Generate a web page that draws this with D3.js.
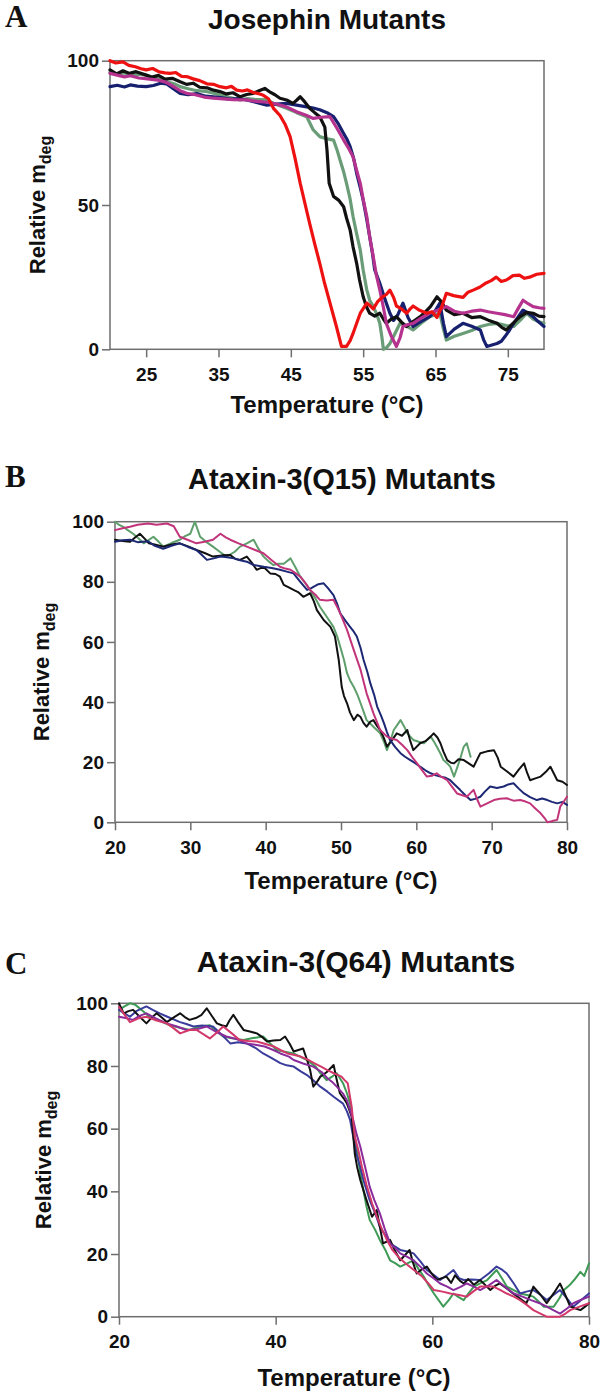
<!DOCTYPE html>
<html>
<head>
<meta charset="utf-8">
<script src="https://cdn.jsdelivr.net/npm/d3@7"></script>
<style>
html,body{margin:0;padding:0;background:#fff;}
svg{display:block;}
text{font-family:"Liberation Sans",Arial,sans-serif;font-weight:bold;fill:#111;}
.letter{font-family:"Liberation Serif","Times New Roman",serif;font-weight:bold;}
</style>
</head>
<body>
<svg id="chart" width="602" height="1395"></svg>
<script>
// ---------------- DATA ----------------
const titles = ["Josephin Mutants", "Ataxin-3(Q15) Mutants", "Ataxin-3(Q64) Mutants"];
const panelLetters = ["A", "B", "C"];
const xTicksA = [25, 35, 45, 55, 65, 75];
const yTicksA = [0, 50, 100];
const xTicksB = [20, 30, 40, 50, 60, 70, 80];
const yTicksB = [0, 20, 40, 60, 80, 100];
const xTicksC = [20, 40, 60, 80];
const yTicksC = [0, 20, 40, 60, 80, 100];

// Panel A (Josephin mutants)
const redA = [[20,100],[20.8,99.2],[21.8,99.6],[22.6,98.4],[23.5,97.9],[24.3,97.2],[25,96.8],[25.9,97.3],[26.8,96.1],[27.6,95.8],[28.3,95.6],[29.1,95.9],[29.9,94.6],[30.6,94.5],[31.5,93.7],[32.4,93.1],[33.4,92],[34.3,91.8],[35.2,91],[36.1,90.6],[36.8,91.1],[37.5,89.8],[38.3,89.5],[39,89.9],[39.8,89],[40.5,88.6],[41.2,88],[41.9,86.8],[42.6,83.5],[43.5,81],[44.2,78],[44.9,73.7],[45.6,66],[46.3,57.5],[47,50],[47.6,43.6],[48.3,36.5],[49,29.8],[49.6,23.5],[50.2,18],[50.8,12.5],[51.3,7.9],[52,1],[52.7,1],[53.2,3],[53.6,5.5],[54.1,9],[54.6,12.5],[55.5,16],[56,15],[56.4,14],[57,16.5],[57.6,18],[58.2,19],[58.7,20.5],[59.2,18],[59.6,15],[60.3,14],[61,12.5],[61.5,14],[61.9,15],[62.8,13.5],[63.8,12.5],[64.5,13],[65.2,11],[65.9,15],[66.5,19.4],[67.5,18.6],[68.8,18],[69.5,19.8],[70.2,20.5],[71.1,21.5],[72,23],[72.7,23.8],[73.4,25],[74.1,23.5],[74.8,24],[75.7,25.5],[76.6,25.7],[77.3,24.6],[78,25],[79,26],[80,26.3]];
const blackA = [[20,96.8],[20.9,95.4],[21.8,96.5],[22.7,95.6],[23.6,96.2],[25,95],[25.8,94.3],[26.7,94.9],[27.6,93.6],[28.6,93.9],[29.7,92.7],[30.6,91.8],[31.5,92.2],[32.4,90.8],[33.4,90.6],[34.3,89.8],[35.2,89.3],[36.1,88.5],[37,88.9],[38,87.5],[38.9,88.3],[39.8,88.7],[40.6,89.6],[41.4,90.4],[42.2,89],[42.8,88.2],[43.5,87],[44.4,86.4],[45.3,85.2],[45.8,86.3],[46.3,87.5],[46.9,85.8],[47.6,83.5],[48.3,82],[49,80.6],[49.7,77],[50,69],[50.3,57.5],[50.9,53],[51.6,51.7],[52.3,49.4],[52.7,45.5],[53.2,41.3],[53.6,35.5],[54.1,29.8],[54.5,24],[55,18.2],[55.5,14.5],[55.9,12.5],[56.6,11.5],[57.3,12.5],[57.8,10.5],[58.2,9],[58.9,10.5],[59.6,11.3],[60.3,9.4],[61,7.9],[61.9,9.6],[62.9,11.3],[63.6,13],[64.3,14.8],[65.2,18.2],[65.8,16.5],[66.5,13.6],[67.6,12],[68.8,12.5],[70,11],[71.2,11.3],[72.3,10.1],[73.5,9],[74.2,7.5],[74.8,6.7],[75.7,9],[76.7,11.3],[77.6,12.8],[78.5,12.5],[79.3,11.5],[80,11.3]];
const navyA = [[20,91],[21,91.5],[22,90.9],[22.8,91.6],[23.8,91.2],[25,91],[26,91.4],[27,92.2],[27.8,92],[28.8,90.2],[29.7,88.7],[30.8,88.2],[32,88.6],[33.2,87.7],[34.3,87.5],[35.5,87.1],[36.6,86.7],[37.8,86.9],[38.9,86.4],[40,85.7],[40.9,85.1],[41.7,84.6],[43,85],[44.4,85.2],[45.8,84.6],[47.2,84],[48.1,83.6],[49,83],[50,82],[50.9,80.6],[51.6,78],[52.3,74.8],[52.8,72.6],[53.2,70.2],[53.7,66],[54.1,61],[54.6,56],[55,51.7],[55.5,45],[55.9,39],[56.3,33],[56.6,27.5],[57.3,22.9],[57.8,19],[58.2,16],[58.7,12.5],[59.2,10],[59.8,12],[60.5,16],[61.2,11],[61.9,7.9],[62.9,9.5],[64.2,11.3],[65,13.5],[65.6,16],[66.1,9],[66.5,4.4],[67.6,7],[68.8,9],[70,8],[71.2,6.7],[71.7,3],[72.1,1],[72.8,1.5],[73.5,2],[74.1,2.8],[74.6,4.4],[75.2,6.5],[75.8,9],[76.5,11.5],[77.1,13.6],[77.8,12.5],[78.5,11.3],[79.2,9.6],[80,7.9]];
const greenA = [[20,96],[21,95.4],[22,95.8],[23,94.9],[24,95.3],[25,95],[26,94.2],[27,93.5],[28,92.6],[29,91.9],[29.7,91],[30.8,90.3],[32,89.6],[33.2,89.4],[34.3,88.7],[35.5,88],[36.6,87.2],[38,86.4],[39,86.9],[40,86.6],[41.7,86.4],[43,84.8],[44.4,83.5],[45.8,82],[47.2,80.6],[48.1,76],[49,73.7],[49.9,73],[50.9,72.5],[51.4,69],[51.8,65.6],[52.3,61.5],[52.7,57.5],[53.2,52],[53.6,46],[54.1,40],[54.6,34.4],[55,27.5],[55.5,20.6],[55.9,17],[56.4,14.8],[56.9,12],[57.3,9],[57.6,4],[57.8,0],[58.2,0.5],[58.7,2],[59.4,5.5],[60.1,9],[61,8],[61.9,6.7],[63,9],[64.2,11.3],[65.6,12.5],[66.1,7],[66.5,3.2],[67.6,4.5],[68.8,5.5],[70,6.5],[71.2,7.9],[72.3,8.6],[73.5,9],[74.8,8.2],[75.8,7.9],[76.7,10],[77.6,12.5],[78.5,10.5],[79.3,9.5],[80,9]];
const magentaA = [[20,95.6],[21,95],[22,94.4],[22.8,94.8],[24,94],[25.5,93.6],[26.6,93.3],[27.8,92.5],[28.8,91],[29.7,89.6],[30.6,88.7],[31.8,88.2],[33,87.4],[34.3,87],[35.6,86.8],[37,86.5],[38.9,86.4],[40.3,85.9],[41.7,85.6],[43,85],[44.4,84],[45.8,82.3],[47.2,81],[48.1,80],[49.2,80.4],[50.4,80.6],[51.4,76.5],[52.3,72.5],[53,69.6],[53.6,66.7],[54.1,62],[54.6,57.5],[55,52],[55.5,46],[55.9,39],[56.4,32],[56.8,26],[57.3,20.6],[57.8,14.5],[58.2,9],[58.9,4.5],[59.6,1],[60.1,4],[60.5,7.9],[61.2,8.6],[61.9,9],[63,10.8],[64.2,12.5],[65.3,13.5],[66.5,14.8],[67.6,13.2],[68.8,12.5],[70,13.2],[71.2,13.6],[72.3,13],[73.5,12.5],[74.6,12],[75.8,11.3],[76.4,14],[77.1,17],[77.8,15.8],[78.5,14.8],[79.3,14.4],[80,14.2]];

// Panel B (Ataxin-3 Q15 mutants)
const blackB = [[20,94],[21,93.6],[22,93.3],[22.7,94.8],[23.3,96],[24,94.2],[24.5,92.8],[25.4,92.3],[26.4,91.7],[27.5,92.4],[28.6,92.8],[29.7,91.8],[30.8,90.6],[31.9,89.6],[33,88.4],[34.2,88.8],[35.3,88.9],[36,87.6],[36.6,87.3],[37.5,88.4],[38.2,86.2],[38.8,84],[39.7,85],[40.6,82.8],[41.3,82.6],[41.9,81.7],[42.4,79],[43,78.2],[43.7,77.3],[44.3,76.6],[45,75],[45.9,76.2],[46.4,73.5],[46.8,70.6],[47.7,67.3],[48.6,65],[49.2,61.8],[49.7,54],[50.1,45],[50.4,42],[50.8,39.6],[51.2,36.5],[51.7,34],[52.2,35.8],[52.6,35],[53,33],[53.4,31.8],[53.9,33.5],[54.3,34],[54.8,32],[55.2,30.7],[55.7,28],[56.1,25.2],[56.8,27.4],[57.4,29.6],[58.1,28.8],[58.8,30.7],[59.2,27],[59.6,24],[60.5,26.3],[61.2,27],[61.9,28.5],[62.3,29.6],[62.8,28.2],[63.2,26.3],[63.6,23.5],[64.1,20.7],[64.6,19.8],[65,19.6],[65.6,21],[66.3,20.7],[67,19.5],[67.6,18.5],[68.1,21],[68.5,23],[69.4,23.6],[70.3,24],[70.8,21.5],[71.2,18.5],[72,17],[72.9,15.2],[73.6,17.5],[74.3,19.6],[74.7,16.5],[75.1,14],[75.8,14.6],[76.5,15.2],[77.2,16.8],[77.8,18.5],[78.3,16],[78.7,14],[79.4,13.5],[80,12.4]];
const navyB = [[20,93.3],[21,93.8],[22,94],[23,93.2],[24.4,93.5],[25.2,92.1],[26.4,91],[27.5,92],[28.6,92.8],[29.7,91.6],[30.8,90.6],[31.5,89],[32.2,87.3],[33.1,87.8],[34,88.4],[34.9,88.2],[35.8,87.8],[36.6,87.2],[37.5,86.7],[38.4,85.6],[39.7,85],[40.8,84.6],[41.9,84],[42.8,83.4],[43.7,82.8],[44.6,80],[45.5,77.3],[46,77.8],[46.4,78.4],[47,79.2],[47.7,79.5],[48.3,77.8],[49,75.6],[49.5,72.6],[49.9,69.5],[50.6,67],[51.2,65],[51.7,63.4],[52.1,61.8],[52.6,58],[53,54],[53.5,50],[53.9,46.2],[54.4,42.4],[54.8,38.5],[55.3,35.6],[55.7,33],[56.1,30],[56.5,27.4],[57.2,25],[57.9,23],[58.5,21.8],[59.2,20.7],[59.9,19.6],[60.5,18.5],[61.2,17.3],[61.9,16.3],[62.6,15.6],[63.2,15.2],[63.9,14.8],[64.5,14],[65.1,12.5],[65.8,10.8],[66.5,9],[67.2,7.4],[67.8,7.8],[68.5,8.5],[69.1,10.2],[69.8,11.9],[70.7,11.4],[71.6,11.9],[72.2,12.6],[72.9,13],[73.6,11.2],[74.3,9.6],[75.1,8.4],[76,7.4],[76.7,7.9],[77.4,7.4],[78,6.8],[78.7,6.3],[79.4,6.8],[80,5.8]];
const greenB = [[20,100],[20.5,99],[21.1,98.3],[21.7,97.2],[22.4,96],[23.1,94.5],[23.8,92.8],[24.4,93.8],[25.1,95],[25.8,93.3],[26.4,91.7],[27.5,92.9],[28.6,94],[29.3,95.2],[30,96],[30.6,100],[31.3,95],[32.1,93.3],[33,91.7],[33.9,90],[34.8,88.4],[35.9,90],[36.6,91.7],[37.5,92.8],[38.4,94],[39,91.2],[39.7,88.4],[40.4,86.8],[41,85.6],[41.7,86],[42.4,86],[43.3,87.8],[44,84.6],[44.6,81.7],[45.3,79.5],[45.9,77.3],[46.6,74.5],[47.2,71.7],[48.1,68.4],[49,65],[49.5,61.8],[49.9,58.4],[50.4,54],[50.8,49.6],[51.2,47.2],[51.7,45],[52.2,42.3],[52.6,39.6],[53,36.8],[53.4,34],[54.3,31.8],[55.2,29.6],[55.7,26.8],[56.1,24],[56.6,27.4],[57,30.7],[57.5,32.5],[57.9,34],[58.4,31.8],[58.8,29.6],[59.6,27.4],[60.3,26.8],[61,26.3],[61.9,28.5],[62.3,27],[62.7,25.2],[63.2,22.9],[63.6,20.7],[64.1,19.6],[64.5,18.5],[65,15.2],[65.4,18],[65.8,21],[66.3,25.2],[66.7,26.3],[67.2,21.8]];
const magentaB = [[20,97.2],[21,97.8],[22,98.3],[23,99],[24.4,99.4],[25.5,99],[26.9,99.4],[27.8,98.5],[28.6,95],[29.7,93.9],[30.8,92.8],[31.9,93.3],[33,94],[34,96],[34.7,94.8],[35.3,94],[36.4,92.8],[37.5,91.7],[38.6,90.6],[39.7,89.5],[40.8,87.2],[41.9,85],[42.6,84.4],[43.3,84],[44,82.8],[44.6,81.7],[45.3,79.5],[45.9,77.3],[46.6,75.7],[47.2,74],[48.1,73.8],[49,74],[49.5,71.6],[49.9,69.5],[50.8,64],[51.7,57.3],[52.6,50.7],[53.4,42.9],[54.3,36.3],[55.2,30.7],[56.1,28.5],[56.8,27.8],[57.4,27.4],[58.1,25.8],[58.8,24],[59.5,21.5],[60.1,19.6],[60.8,17.2],[61.4,15.2],[62.1,15.5],[62.7,16.3],[63.4,15],[64.1,14],[64.8,11.6],[65.4,9.6],[66.1,9],[66.7,8.5],[67.2,9.8],[67.6,10.8],[68.1,7.5],[68.5,5.2],[69.4,6.3],[70.3,7.4],[71.1,7.8],[72,8],[72.9,7.2],[73.8,7.4],[74.5,6.9],[75.1,6.3],[75.8,4.6],[76.5,3],[77,1.5],[77.4,0],[78,0.4],[78.7,0.8],[79.1,5.2],[79.6,7],[80,8.5]];

// Panel C (Ataxin-3 Q64 mutants)
const blackC = [[20,100],[20.6,96.8],[21.2,97.5],[21.8,97.9],[22.6,95.8],[23.5,93.6],[24.2,95.5],[24.8,96.8],[25.5,95.4],[26.1,94],[27,95.5],[27.8,96.8],[28.4,95.6],[29,94.7],[29.8,95.3],[30.5,96.2],[31.2,98.4],[31.9,95.8],[32.5,93.6],[33.1,93],[33.7,92.6],[34.1,94.5],[34.6,96.3],[35.2,94],[35.9,91.5],[36.7,91],[37.6,90.4],[38.3,89.2],[38.9,87.8],[39.7,88.1],[40.6,88.3],[41.2,89.4],[41.8,87],[42.3,84.6],[42.9,85.1],[43.5,85.6],[44,82],[44.4,78.7],[44.8,73.4],[45.3,75],[45.7,76.6],[46.5,78],[47.4,80.3],[47.8,75.5],[48.2,71.3],[48.7,69.6],[49.1,68],[49.4,66],[49.7,63.8],[50.1,52],[50.4,47.8],[50.8,43.6],[51.2,40.4],[51.6,37.2],[52.3,31.9],[52.9,34],[53.3,28.7],[53.7,23.4],[54.2,24],[54.6,24.5],[55.2,21.2],[55.9,18],[56.5,19.6],[57.1,21.3],[57.5,17.5],[58,13.8],[58.6,15],[59.3,16],[59.9,13.8],[60.6,11.7],[61.2,12.3],[61.8,12.8],[62.4,10.8],[62.9,13.2],[63.5,11.5],[64,10.6],[64.6,12],[65.3,10.2],[66.1,11.7],[66.8,10],[67.4,8.5],[68,9.8],[68.6,10.6],[69.5,9],[70.3,7.4],[71.2,5.8],[72,4.3],[72.5,7],[72.9,9.6],[73.8,7],[74.6,4.3],[75.5,7.5],[76.3,10.6],[77,6.8],[77.6,3.2],[78.3,2.6],[78.9,2.1],[79.5,3.2],[80,4.3]];
const blueC = [[20,97.9],[20.7,96.8],[21.4,95.7],[22.2,97.5],[23.5,99],[24.3,97.9],[25.2,96.8],[26.1,95.8],[27.8,94],[28.6,93.4],[29.5,92.6],[30.6,92.9],[32,92.6],[33.1,90],[34.2,87.2],[35.2,87.6],[36.3,87.2],[37.4,85.8],[38.4,84],[39.5,82.5],[40.6,80.9],[41.4,80.2],[42.3,79.8],[43.2,78.3],[44,77.1],[44.9,75.2],[45.7,73.4],[46.6,71.8],[47.4,70.2],[48.6,68],[49.1,65.5],[49.5,62.8],[49.9,57.4],[50.3,52],[50.8,47.8],[51.2,43.6],[51.6,40.4],[52,37.2],[52.7,33],[53.3,28.7],[54,26],[54.6,23.4],[55.3,22.3],[55.9,21.3],[56.8,20.8],[57.6,20.2],[58.5,17.6],[59.3,14.9],[60.2,13.3],[61,11.7],[61.9,13.3],[62.7,14.9],[63.4,12.3],[64,11.7],[65,11.9],[66.1,11.7],[67.2,13.8],[68.2,16],[68.9,15],[69.5,13.8],[70.4,10.6],[71.2,7.4],[72,8],[72.9,8.5],[73.8,7],[74.6,5.3],[75.5,7],[76.3,8.5],[77.2,5.8],[78,3.2],[79,5.3],[80,7.4]];
const greenC = [[20,97.9],[20.7,99],[21.4,100],[22.1,99.5],[23,97.6],[23.9,95.7],[25.2,94.4],[26.5,93],[27.8,92.2],[29,91.5],[30.3,92.6],[31.6,93],[32.4,91.2],[33.3,89.4],[34.6,88.8],[35.9,88.3],[37.1,88.9],[38.4,89.4],[39.3,87.2],[40.1,85.1],[41,84.6],[42.3,84],[43.1,83],[44,81.9],[45.1,79.8],[45.7,77.7],[46.5,75.5],[47.2,76.6],[47.8,77.7],[48.6,74.5],[49.1,71.3],[49.5,68],[49.9,61],[50.3,54.3],[50.8,45.7],[51.6,35.1],[52,30.9],[52.7,27.7],[53.3,24.5],[54,21.3],[54.6,18],[55.3,17],[55.9,16],[56.8,17],[57.6,18],[58.2,15.4],[58.9,12.8],[59.5,10.1],[60.2,7.4],[60.8,5.3],[61.4,3.2],[62.1,5.3],[62.7,7.4],[63.3,6.3],[64,5.3],[64.6,7.4],[65.3,9.6],[66.1,10.6],[67,11.7],[67.6,13.3],[68.2,14.9],[68.9,12.2],[69.5,9.6],[70.4,8.5],[71.2,7.4],[72.1,6.9],[72.9,6.4],[73.6,4.8],[74.2,3.2],[74.9,3.2],[75.5,3.2],[76.2,5.8],[76.8,8.5],[77.5,10],[78.1,11.7],[78.9,14.3],[79.4,13],[80,17]];
const purpleC = [[20,95.7],[21,95.2],[21.8,94.7],[22.6,96],[23.5,96.8],[24.7,95.2],[26.1,93.6],[27.4,92.6],[28.6,91.5],[30,91.8],[31.2,92.6],[32.3,91],[33.7,89.4],[35,88.6],[36.3,87.2],[37.4,86.8],[38.6,86.2],[39.7,85.1],[40.6,84],[41.7,83],[42.3,81.9],[43.5,80.8],[44.8,79.8],[45.9,78],[46.6,76.1],[47.3,74.7],[47.8,73.4],[48.6,71.2],[49.1,69],[49.5,65.9],[49.9,62.8],[50.3,58.5],[50.8,54.3],[51.4,48],[52,41.5],[52.6,37.2],[53.3,33],[53.9,28.2],[54.6,23.4],[55.3,21.8],[55.9,20.2],[56.8,19.1],[57.6,18],[58.5,15.9],[59.3,13.8],[60.2,12.2],[61,10.6],[61.9,9.6],[62.7,8.5],[63.6,9.5],[64.4,10.6],[65.3,9.6],[66.1,8.5],[67.2,10],[68.2,11.7],[69.3,9.5],[70.4,7.4],[71.5,6.4],[72.6,5.3],[73.7,4.3],[74.6,3.2],[75.5,2],[76.3,1],[77.2,2.6],[78,4.3],[79,5.4],[80,6.4]];
const crimsonC = [[20,98.9],[20.7,96.4],[21.4,94],[22.5,95.2],[23.5,95.7],[24.8,94.5],[26.1,93.6],[27,92],[27.8,90.4],[29,91.5],[29.9,91.5],[30.8,90.1],[31.6,88.8],[32.5,90.7],[33.3,92.6],[34.4,90.4],[35.4,88.3],[36.5,88],[37.6,87.8],[38.7,87],[39.8,86.2],[40.6,85.1],[41.5,84],[42.4,83.5],[43.2,83],[44.1,82],[44.9,80.9],[45.8,79.8],[46.6,78.7],[47.5,77.6],[48.4,76.6],[48.8,75.5],[49.2,74.5],[49.7,67],[50.1,57.4],[50.6,52.6],[51,47.9],[51.6,42],[52.3,36.2],[52.9,32],[53.6,27.7],[54.2,24.5],[54.9,21.3],[55.7,19],[56.6,17],[57.6,15],[58.7,12.8],[59.5,10.6],[60.2,8.5],[61.3,8],[62.3,7.4],[63.4,6.9],[64.4,6.4],[65.2,8],[66.1,9.6],[67,9.6],[67.8,9.6],[68.7,8.5],[69.5,7.4],[70.4,6.4],[71.2,5.3],[72.1,3.7],[72.9,2.1],[73.8,1],[74.6,0],[75.5,0],[76.3,0],[77,1],[77.6,2.1],[78.8,3.2],[80,4.3]];

// ---------------- LAYOUT ----------------
const svg = d3.select("#chart");

const panels = [
  { title: titles[0], letter: panelLetters[0], xTicks: xTicksA, yTicks: yTicksA,
    box: {l:110, r:544, t:60.7, b:349.3}, lw: 3.2, titleSize: 28,
    titleX: 327, titleY: 29, letterY: 27, xlabY: 413, ylabX: 45,
    series: [[greenA,"#6a9c77"],[navyA,"#16206e"],[blackA,"#111111"],[magentaA,"#b5338e"],[redA,"#ee1111"]] },
  { title: titles[1], letter: panelLetters[1], xTicks: xTicksB, yTicks: yTicksB,
    box: {l:115, r:567, t:521.7, b:822.3}, lw: 2, titleSize: 29,
    titleX: 342, titleY: 489, letterY: 487, xlabY: 889, ylabX: 49,
    series: [[greenB,"#5e9f6c"],[blackB,"#111111"],[navyB,"#1c2874"],[magentaB,"#c2347a"]] },
  { title: titles[2], letter: panelLetters[2], xTicks: xTicksC, yTicks: yTicksC,
    box: {l:119, r:589, t:1003.3, b:1316.7}, lw: 2, titleSize: 30,
    titleX: 356, titleY: 972, letterY: 974, xlabY: 1386, ylabX: 51,
    series: [[greenC,"#3e9a55"],[blueC,"#3a3c9c"],[blackC,"#111111"],[purpleC,"#8a2c9c"],[crimsonC,"#d2386a"]] }
];

panels.forEach(p => {
  const g = svg.append("g");
  const x = d3.scaleLinear().domain([20, 80]).range([p.box.l, p.box.r]);
  const y = d3.scaleLinear().domain([0, 100]).range([p.box.b, p.box.t]);

  g.append("text").attr("class","letter").attr("x", 5).attr("y", p.letterY)
    .attr("font-size", 31).text(p.letter);
  g.append("text").attr("x", p.titleX).attr("y", p.titleY).attr("text-anchor","middle")
    .attr("font-size", p.titleSize).text(p.title);

  const xa = g.append("g").attr("transform", `translate(0,${p.box.b})`)
    .call(d3.axisBottom(x).tickValues(p.xTicks).tickSize(8).tickSizeOuter(0).tickPadding(10).tickFormat(d3.format("d")));
  const ya = g.append("g").attr("transform", `translate(${p.box.l},0)`)
    .call(d3.axisLeft(y).tickValues(p.yTicks).tickSize(8).tickSizeOuter(0).tickPadding(3).tickFormat(d3.format("d")));
  [xa, ya].forEach(a => {
    a.select(".domain").remove();
    a.selectAll(".tick line").attr("stroke", "#6e6e6e").attr("stroke-width", 1.5);
    a.selectAll(".tick text").attr("font-size", 19).attr("font-weight","bold")
      .attr("font-family", '"Liberation Sans",Arial,sans-serif').attr("fill", "#111");
  });

  g.append("rect").attr("x", p.box.l).attr("y", p.box.t)
    .attr("width", p.box.r - p.box.l).attr("height", p.box.b - p.box.t)
    .attr("fill", "none").attr("stroke", "#6e6e6e").attr("stroke-width", 1.5);

  const line = d3.line().x(d => x(d[0])).y(d => y(d[1]));
  p.series.forEach(([data, color]) => {
    g.append("path").datum(data).attr("d", line)
      .attr("fill", "none").attr("stroke", color).attr("stroke-width", p.lw)
      .attr("stroke-linejoin", "round").attr("stroke-linecap", "round");
  });

  g.append("text").attr("x", (p.box.l + p.box.r) / 2).attr("y", p.xlabY)
    .attr("text-anchor", "middle").attr("font-size", 24).text("Temperature (°C)");

  const yl = g.append("text")
    .attr("transform", `translate(${p.ylabX},${(p.box.t + p.box.b) / 2}) rotate(-90)`)
    .attr("text-anchor", "middle").attr("font-size", 22);
  yl.append("tspan").text("Relative m");
  yl.append("tspan").attr("font-size", 16).attr("dy", 6).text("deg");
});
</script>
</body>
</html>
